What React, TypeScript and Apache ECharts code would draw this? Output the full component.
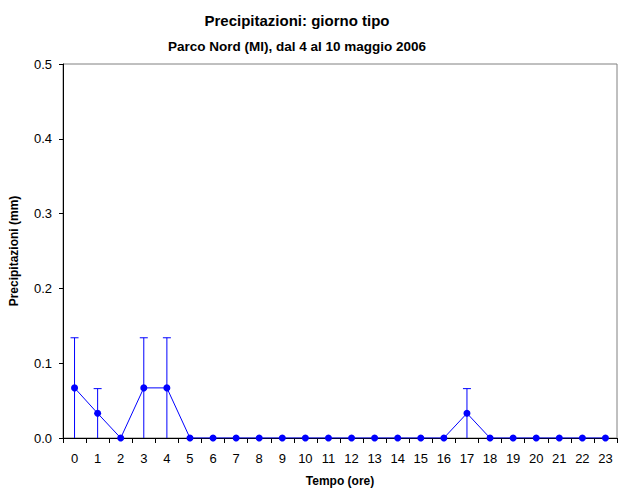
import React, { useEffect, useRef } from "react";
import * as echarts from "echarts";

const hours = Array.from({ length: 24 }, (_, i) => String(i));
const values = [0.067, 0.033, 0, 0.067, 0.067, 0, 0, 0, 0, 0, 0, 0, 0, 0, 0, 0, 0, 0.033, 0, 0, 0, 0, 0, 0];
const errors = [0.067, 0.033, 0, 0.067, 0.067, 0, 0, 0, 0, 0, 0, 0, 0, 0, 0, 0, 0, 0.033, 0, 0, 0, 0, 0, 0];
const titleText = "Precipitazioni: giorno tipo";
const subtitleText = "Parco Nord (MI), dal 4 al 10 maggio 2006";

export default function App() {
  const ref = useRef<HTMLDivElement>(null);
  useEffect(() => {
    const chart = echarts.init(ref.current!, null, { renderer: "svg" });
    const font = "'Liberation Sans', Arial, sans-serif";
    const errData = values
      .map((v, i) => [i, Math.max(0, v - errors[i]), v + errors[i]])
      .filter((d, i) => errors[i] > 0);
    chart.setOption({
      animation: false,
      textStyle: { fontFamily: font },
      title: [
        {
          text: titleText,
          left: 292,
          top: 8,
          textAlign: "center",
          textStyle: { fontSize: 15, fontWeight: "bold", color: "#000", fontFamily: font },
        },
        {
          text: subtitleText,
          left: 292,
          top: 34,
          textAlign: "center",
          textStyle: { fontSize: 13.5, fontWeight: "bold", color: "#000", fontFamily: font },
        },
      ],
      grid: {
        left: 63,
        right: 1,
        top: 64,
        bottom: 54,
        show: true,
        borderColor: "#808080",
        borderWidth: 1,
        containLabel: false,
        outerBoundsMode: "none",
      },
      xAxis: {
        type: "category",
        data: hours,
        boundaryGap: true,
        name: "Tempo (ore)",
        nameLocation: "middle",
        nameGap: 37,
        nameTextStyle: { fontSize: 12, fontWeight: "bold", color: "#000", fontFamily: font },
        axisLine: { lineStyle: { color: "#000", width: 1 } },
        axisTick: { show: true, alignWithLabel: false, length: 5, lineStyle: { color: "#000" } },
        axisLabel: { fontSize: 13, color: "#000", margin: 14, fontFamily: font, interval: 0 },
        splitLine: { show: false },
      },
      yAxis: {
        type: "value",
        min: 0,
        max: 0.5,
        interval: 0.1,
        name: "Precipitazioni (mm)",
        nameLocation: "middle",
        nameGap: 43,
        nameTextStyle: { fontSize: 12, fontWeight: "bold", color: "#000", fontFamily: font },
        axisLine: { show: true, lineStyle: { color: "#000", width: 1 } },
        axisTick: { show: true, length: 4, lineStyle: { color: "#000" } },
        axisLabel: {
          fontSize: 13,
          color: "#000",
          margin: 11,
          fontFamily: font,
          formatter: (v: number) => v.toFixed(1),
        },
        splitLine: { show: false },
      },
      series: [
        {
          type: "custom",
          z: 1,
          data: errData,
          renderItem: (params: any, api: any) => {
            const x = api.value(0);
            const lo = api.coord([x, api.value(1)]);
            const hi = api.coord([x, api.value(2)]);
            const cap = 4;
            return {
              type: "group",
              children: [
                {
                  type: "line",
                  shape: { x1: lo[0], y1: lo[1], x2: hi[0], y2: hi[1] },
                  style: { stroke: "#0000ff", lineWidth: 1 },
                },
                {
                  type: "line",
                  shape: { x1: hi[0] - cap, y1: hi[1], x2: hi[0] + cap, y2: hi[1] },
                  style: { stroke: "#0000ff", lineWidth: 1 },
                },
              ],
            };
          },
        },
        {
          type: "line",
          z: 2,
          data: values,
          symbol: "circle",
          symbolSize: 7,
          lineStyle: { color: "#0000ff", width: 1 },
          itemStyle: { color: "#0000ff" },
        },
      ],
    });
    return () => chart.dispose();
  }, []);
  return <div ref={ref} style={{ width: 618, height: 492, position: "absolute", left: 0, top: 0 }} />;
}
